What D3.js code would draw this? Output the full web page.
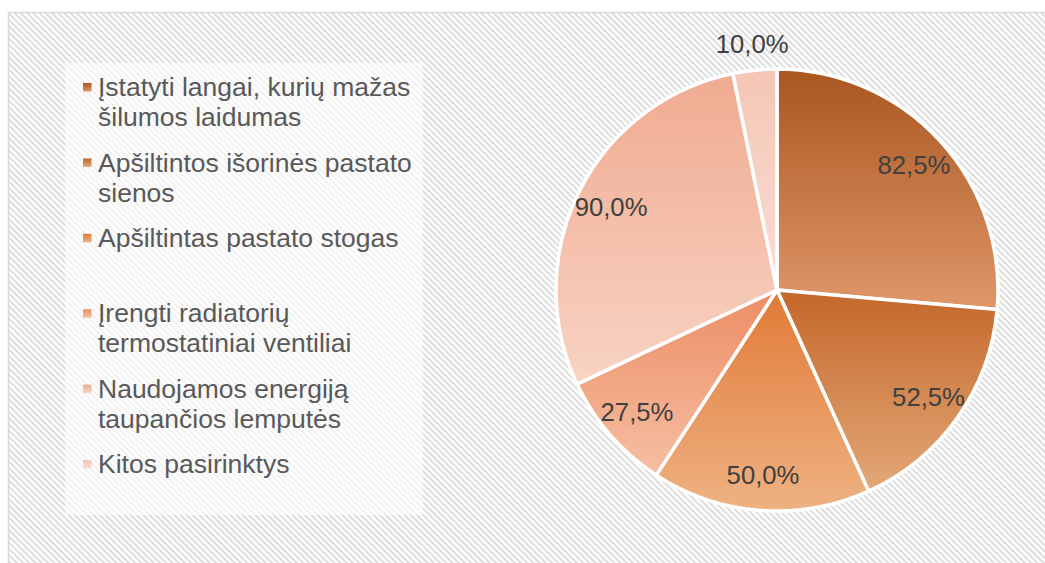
<!DOCTYPE html>
<meta charset="utf-8">
<style>
body { margin: 0; background: #fff; }
text { font-family: "Liberation Sans", Arial, sans-serif; }
</style>
<body>
<script src="https://d3js.org/d3.v7.min.js"></script>
<script>

// chart data
var categories = [
  "Įstatyti langai, kurių mažas šilumos laidumas",
  "Apšiltintos išorinės pastato sienos",
  "Apšiltintas pastato stogas",
  "Įrengti radiatorių termostatiniai ventiliai",
  "Naudojamos energiją taupančios lemputės",
  "Kitos pasirinktys"
];
var values = [82.5, 52.5, 50.0, 27.5, 90.0, 10.0];
var labels = ["82,5%", "52,5%", "50,0%", "27,5%", "90,0%", "10,0%"];
var topColors = ["#a9561f", "#c4672a", "#e07a36", "#ec8d64", "#f0ab90", "#f4c6b6"];
var bottomColors = ["#e0976a", "#e3a878", "#efb283", "#f6bfa3", "#f8d3c4", "#f9ddd3"];

var width = 1045, height = 563;
var cx = 777, cy = 290, radius = 221;

var svg = d3.select("body").append("svg")
    .attr("width", width)
    .attr("height", height);

var defs = svg.append("defs");

// diagonal stripe background
var pat = defs.append("pattern")
    .attr("id", "stripes")
    .attr("patternUnits", "userSpaceOnUse")
    .attr("width", 4.4)
    .attr("height", 4.4)
    .attr("patternTransform", "rotate(-45)");
pat.append("rect").attr("width", 4.4).attr("height", 4.4).attr("fill", "#ffffff");
pat.append("line")
    .attr("x1", 1.1).attr("y1", 0).attr("x2", 1.1).attr("y2", 4.4)
    .attr("stroke", "#dcdcdc")
    .attr("stroke-width", 2);

// one vertical gradient per slice
values.forEach(function(v, i) {
  var g = defs.append("linearGradient")
      .attr("id", "grad" + i)
      .attr("x1", 0).attr("y1", 0).attr("x2", 0).attr("y2", 1);
  g.append("stop").attr("offset", "0%").attr("stop-color", topColors[i]);
  g.append("stop").attr("offset", "100%").attr("stop-color", bottomColors[i]);
});

// chart area frame
svg.append("rect")
    .attr("x", 8.5).attr("y", 12.5)
    .attr("width", width).attr("height", height)
    .attr("fill", "url(#stripes)")
    .attr("stroke", "#d9d9d9")
    .attr("stroke-width", 1.5);

// legend box
svg.append("rect")
    .attr("x", 65).attr("y", 63)
    .attr("width", 358).attr("height", 452)
    .attr("fill", "#ffffff")
    .attr("fill-opacity", 0.6);

// pie
var pie = d3.pie().sort(null).value(function(d) { return d; });
var arcs = pie(values);
var total = d3.sum(values);

var arc = d3.arc().innerRadius(0).outerRadius(radius);
var labelArc = d3.arc().innerRadius(radius * 0.84).outerRadius(radius * 0.84);
var outerArc = d3.arc().innerRadius(radius + 26).outerRadius(radius + 26);

var g = svg.append("g")
    .attr("transform", "translate(" + cx + "," + cy + ")");

g.selectAll("path")
    .data(arcs)
  .enter().append("path")
    .attr("d", arc)
    .attr("fill", function(d, i) { return "url(#grad" + i + ")"; })
    .attr("stroke", "#ffffff")
    .attr("stroke-width", 3.5)
    .attr("stroke-linejoin", "round");

g.selectAll(".lbl")
    .data(arcs)
  .enter().append("text")
    .attr("class", "lbl")
    .attr("transform", function(d) {
      var c = (d.value / total < 0.05 ? outerArc : labelArc).centroid(d);
      return "translate(" + c + ")";
    })
    .attr("text-anchor", "middle")
    .attr("dy", "0.35em")
    .attr("font-size", 25.7)
    .attr("fill", "#404040")
    .text(function(d, i) { return labels[i]; });

// legend
var ly = d3.scaleLinear().domain([0, categories.length - 1]).range([87, 464]);
var lineH = 30, maxW = 318;

var items = svg.selectAll(".legend")
    .data(categories)
  .enter().append("g")
    .attr("class", "legend")
    .attr("transform", function(d, i) { return "translate(0," + ly(i) + ")"; });

items.append("rect")
    .attr("x", 83).attr("y", -4)
    .attr("width", 8.5).attr("height", 8.5)
    .attr("fill", function(d, i) { return "url(#grad" + i + ")"; });

items.each(function(d) {
  var t = d3.select(this).append("text")
      .attr("x", 98)
      .attr("font-size", 26.5)
      .attr("fill", "#595959");
  var words = d.split(" "), line = [], n = 0;
  var ts = t.append("tspan").attr("x", 98).attr("dy", "0.35em");
  words.forEach(function(w) {
    line.push(w);
    ts.text(line.join(" "));
    if (ts.node().getComputedTextLength() > maxW && line.length > 1) {
      line.pop();
      ts.text(line.join(" "));
      line = [w];
      n++;
      ts = t.append("tspan").attr("x", 98).attr("y", n * lineH).attr("dy", "0.35em").text(w);
    }
  });
});

</script>
</body>
